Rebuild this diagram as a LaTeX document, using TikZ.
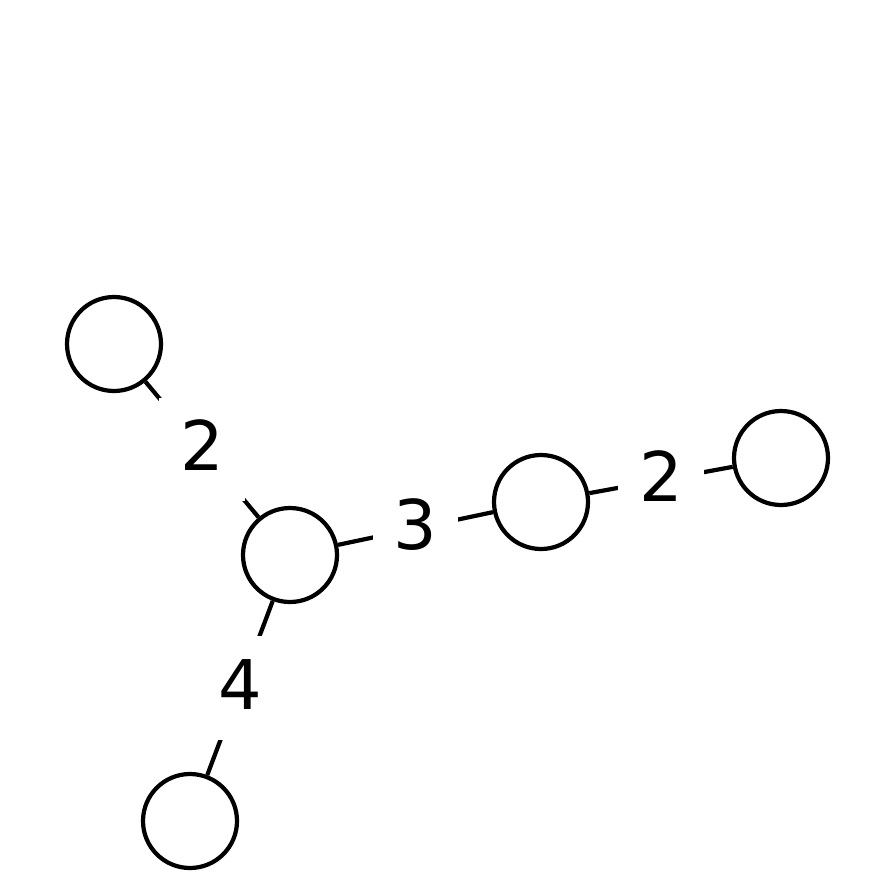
\documentclass[tikz,border=0pt]{standalone}
\usepackage{fontspec}
\setmainfont{DejaVu Sans}
\usepackage{tikz}
\usetikzlibrary{calc, positioning}

\begin{document}
\begin{tikzpicture}[line width=1.2pt, font=\fontsize{19.5}{24}\selectfont,
    vert/.style={draw, circle, minimum size=0.94cm, inner sep=0pt},
    wt/.style={fill=white, inner xsep=6pt, inner ysep=6.5pt, text height=14.2pt, text depth=2.2pt, midway}]
  \useasboundingbox (0,0) rectangle (8.95,-8.95);
  \node[vert] (a) at (1.14,-3.44) {};
  \node[vert] (b) at (2.90,-5.55) {};
  \node[vert] (c) at (5.41,-5.02) {};
  \node[vert] (d) at (7.81,-4.58) {};
  \node[vert] (e) at (1.90,-8.21) {};
  \draw (a) -- node[wt] {2} (b);
  \draw (b) -- node[wt] {3} (c);
  \draw (c) -- node[wt] {2} (d);
  \draw (b) -- node[wt] {4} (e);
\end{tikzpicture}
\end{document}
